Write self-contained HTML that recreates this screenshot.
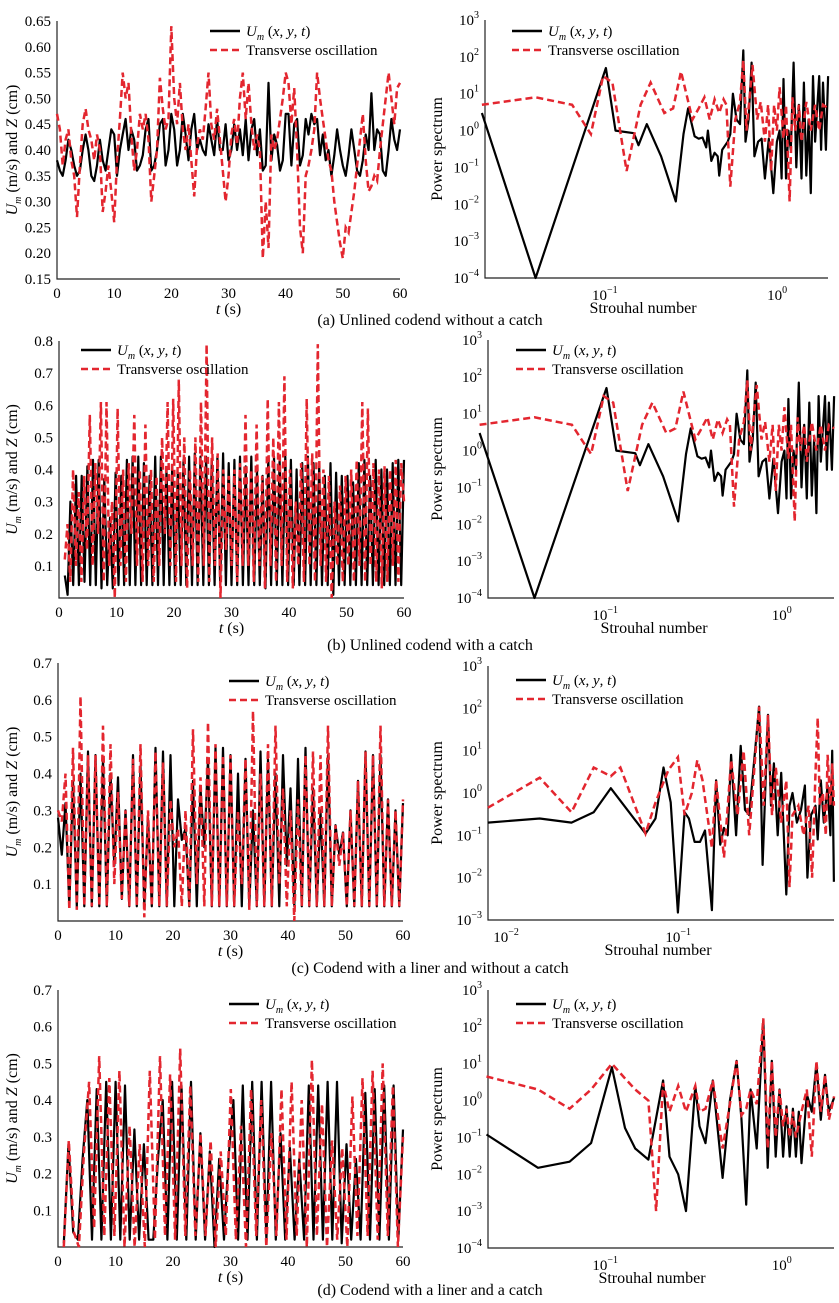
<!DOCTYPE html>
<html><head><meta charset="utf-8">
<style>
html,body{margin:0;padding:0;background:#fff;}
svg{display:block;font-family:"Liberation Serif",serif;}
</style></head>
<body>
<svg id="fig" width="839" height="1303" viewBox="0 0 839 1303" xmlns="http://www.w3.org/2000/svg"></svg>
<script>
// ===== Time series data (values sampled uniformly over 0-60 s) =====
const tsA_black=[0.38,0.36,0.35,0.38,0.42,0.40,0.37,0.35,0.36,0.40,0.43,0.40,0.35,0.34,0.37,0.42,0.38,0.36,0.40,0.44,0.43,0.35,0.40,0.43,0.46,0.40,0.44,0.42,0.36,0.37,0.39,0.44,0.46,0.36,0.37,0.40,0.45,0.46,0.37,0.40,0.47,0.44,0.37,0.40,0.47,0.43,0.38,0.44,0.47,0.40,0.42,0.40,0.39,0.45,0.42,0.39,0.46,0.40,0.40,0.45,0.38,0.40,0.45,0.40,0.44,0.39,0.46,0.38,0.44,0.46,0.39,0.44,0.36,0.37,0.53,0.38,0.43,0.41,0.36,0.38,0.47,0.47,0.37,0.45,0.46,0.37,0.39,0.46,0.43,0.47,0.45,0.46,0.39,0.43,0.38,0.40,0.35,0.39,0.44,0.40,0.37,0.35,0.39,0.44,0.40,0.36,0.35,0.38,0.43,0.40,0.51,0.40,0.44,0.43,0.36,0.35,0.40,0.46,0.42,0.40,0.44];
const tsA_red=[0.47,0.44,0.37,0.42,0.44,0.38,0.35,0.27,0.37,0.45,0.48,0.44,0.42,0.38,0.43,0.40,0.28,0.32,0.37,0.32,0.26,0.38,0.46,0.55,0.50,0.53,0.43,0.36,0.40,0.47,0.44,0.47,0.42,0.30,0.35,0.40,0.54,0.48,0.44,0.46,0.64,0.50,0.45,0.53,0.44,0.40,0.45,0.38,0.31,0.41,0.44,0.42,0.48,0.55,0.45,0.42,0.48,0.42,0.36,0.30,0.35,0.43,0.46,0.41,0.50,0.55,0.46,0.53,0.45,0.40,0.43,0.40,0.19,0.30,0.21,0.43,0.40,0.42,0.46,0.50,0.55,0.53,0.45,0.52,0.40,0.25,0.20,0.35,0.37,0.40,0.44,0.55,0.50,0.46,0.42,0.38,0.36,0.30,0.26,0.22,0.19,0.25,0.24,0.28,0.32,0.37,0.42,0.47,0.38,0.32,0.33,0.35,0.34,0.40,0.45,0.50,0.55,0.50,0.45,0.52,0.53];
const tsB_black=[0.07,0.01,0.30,0.04,0.38,0.04,0.38,0.05,0.41,0.04,0.43,0.04,0.43,0.03,0.37,0.04,0.25,0.03,0.39,0.04,0.38,0.04,0.43,0.04,0.44,0.04,0.44,0.04,0.42,0.04,0.38,0.04,0.44,0.04,0.44,0.04,0.40,0.04,0.41,0.04,0.39,0.04,0.43,0.04,0.44,0.04,0.45,0.04,0.44,0.04,0.44,0.04,0.43,0.04,0.44,0.04,0.45,0.04,0.42,0.04,0.43,0.04,0.44,0.04,0.41,0.04,0.44,0.04,0.40,0.04,0.38,0.03,0.44,0.04,0.44,0.04,0.43,0.04,0.44,0.04,0.43,0.04,0.40,0.04,0.42,0.04,0.44,0.04,0.42,0.04,0.41,0.04,0.38,0.04,0.42,0.01,0.39,0.04,0.38,0.04,0.38,0.04,0.36,0.04,0.42,0.04,0.43,0.04,0.38,0.04,0.43,0.04,0.40,0.04,0.40,0.04,0.42,0.04,0.43,0.04,0.43];
const tsB_red=[0.12,0.23,0.05,0.40,0.10,0.33,0.05,0.38,0.15,0.57,0.10,0.42,0.20,0.61,0.05,0.61,0.10,0.30,0.00,0.59,0.10,0.40,0.05,0.42,0.20,0.57,0.10,0.40,0.05,0.54,0.10,0.40,0.05,0.38,0.10,0.50,0.20,0.61,0.10,0.62,0.05,0.68,0.10,0.50,0.03,0.40,0.10,0.50,0.05,0.61,0.10,0.79,0.05,0.50,0.10,0.45,0.00,0.40,0.15,0.38,0.10,0.40,0.05,0.42,0.10,0.57,0.10,0.40,0.05,0.54,0.10,0.38,0.03,0.62,0.10,0.50,0.05,0.61,0.10,0.69,0.05,0.40,0.03,0.30,0.10,0.42,0.05,0.62,0.10,0.45,0.05,0.79,0.10,0.40,0.05,0.38,0.00,0.30,0.10,0.35,0.05,0.38,0.10,0.40,0.05,0.43,0.10,0.61,0.05,0.59,0.10,0.42,0.05,0.40,0.03,0.41,0.05,0.40,0.10,0.43,0.05,0.42,0.30];
const tsC_black=[0.28,0.18,0.32,0.04,0.38,0.04,0.40,0.04,0.46,0.04,0.45,0.04,0.44,0.04,0.40,0.15,0.39,0.06,0.30,0.04,0.45,0.04,0.42,0.04,0.28,0.04,0.47,0.04,0.46,0.04,0.45,0.04,0.33,0.22,0.25,0.04,0.38,0.04,0.36,0.20,0.44,0.04,0.47,0.04,0.47,0.04,0.45,0.04,0.40,0.04,0.44,0.04,0.30,0.04,0.46,0.04,0.44,0.04,0.40,0.04,0.45,0.15,0.36,0.04,0.44,0.04,0.47,0.04,0.36,0.04,0.30,0.04,0.45,0.04,0.26,0.18,0.24,0.04,0.30,0.04,0.38,0.04,0.46,0.04,0.45,0.04,0.45,0.04,0.33,0.04,0.30,0.04,0.32];
const tsC_red=[0.30,0.27,0.40,0.03,0.47,0.03,0.61,0.04,0.45,0.04,0.45,0.04,0.53,0.04,0.48,0.10,0.35,0.06,0.30,0.04,0.44,0.04,0.48,0.01,0.30,0.04,0.46,0.04,0.43,0.04,0.33,0.20,0.25,0.04,0.30,0.04,0.52,0.10,0.39,0.04,0.54,0.04,0.48,0.04,0.45,0.04,0.45,0.04,0.30,0.10,0.44,0.03,0.57,0.04,0.40,0.04,0.48,0.04,0.53,0.10,0.36,0.04,0.30,0.00,0.33,0.04,0.45,0.04,0.46,0.04,0.45,0.04,0.53,0.04,0.26,0.15,0.24,0.04,0.30,0.04,0.38,0.04,0.46,0.04,0.45,0.04,0.53,0.04,0.33,0.04,0.30,0.04,0.33];
const tsD_black=[0.01,0.28,0.04,0.02,0.24,0.40,0.02,0.43,0.02,0.45,0.02,0.45,0.02,0.44,0.02,0.32,0.02,0.28,0.02,0.02,0.24,0.40,0.02,0.45,0.02,0.44,0.02,0.45,0.02,0.31,0.02,0.26,0.00,0.24,0.02,0.25,0.40,0.02,0.44,0.02,0.45,0.02,0.45,0.02,0.45,0.02,0.31,0.02,0.27,0.02,0.24,0.02,0.44,0.02,0.44,0.02,0.45,0.02,0.45,0.01,0.28,0.02,0.24,0.02,0.42,0.02,0.43,0.02,0.44,0.02,0.44,0.02,0.32];
const tsD_red=[0.00,0.29,0.04,0.00,0.26,0.45,0.05,0.52,0.03,0.46,0.03,0.48,0.00,0.33,0.00,0.28,0.00,0.48,0.02,0.52,0.03,0.47,0.02,0.54,0.03,0.44,0.03,0.31,0.03,0.29,0.00,0.26,0.03,0.43,0.02,0.33,0.00,0.43,0.03,0.40,0.00,0.31,0.03,0.43,0.02,0.45,0.03,0.40,0.00,0.51,0.03,0.39,0.00,0.29,0.02,0.27,0.00,0.41,0.03,0.46,0.03,0.48,0.02,0.50,0.03,0.44,0.00,0.30];
// ===== Spectra data =====
const spA_st=[0.021,0.043,0.11,0.125,0.16,0.17,0.19,0.23,0.28,0.31,0.33,0.36,0.38,0.40,0.42,0.43,0.45,0.47,0.49,0.50,0.52,0.56,0.58,0.60,0.63,0.66,0.69,0.71,0.74,0.77,0.80,0.84,0.88,0.92,0.97,1.03,1.08,1.12,1.15,1.18,1.22,1.26,1.30,1.35,1.40,1.45,1.50,1.55,1.60,1.65,1.70,1.75,1.80,1.90,1.95,2.00,2.08,2.14];
const spA_black=[3,0.0001,50,1,0.85,0.4,1.5,0.2,0.012,0.8,4,0.7,0.6,0.65,0.35,1.0,0.15,0.25,0.2,0.06,0.3,0.5,0.8,10,2,1.5,150,0.5,2,70,0.2,0.5,0.6,0.05,0.6,0.02,0.5,1.0,0.05,25,0.05,1,0.3,70,0.1,5,0.05,20,0.06,2,0.02,30,0.5,30,0.3,20,0.3,30];
const spA_st2=[0.021,0.043,0.07,0.09,0.106,0.12,0.145,0.175,0.20,0.24,0.27,0.30,0.35,0.38,0.41,0.44,0.47,0.50,0.53,0.55,0.58,0.62,0.66,0.69,0.72,0.75,0.78,0.83,0.87,0.92,0.96,1.0,1.04,1.08,1.12,1.18,1.22,1.28,1.33,1.38,1.45,1.5,1.6,1.7,1.8,1.9,2.0,2.14];
const spA_red=[5,8,5,0.8,30,20,0.08,5,20,3,4,40,2,4,8,2,7,3,7,5,0.03,2,6,80,1,8,60,2,6,0.5,5,0.08,5,1,15,0.6,5,0.012,8,1,5,0.5,6,1,5,1,5,4];
const spC_st=[0.0085,0.017,0.026,0.035,0.044,0.070,0.08,0.089,0.098,0.108,0.118,0.125,0.135,0.145,0.155,0.17,0.18,0.19,0.20,0.21,0.22,0.235,0.25,0.265,0.28,0.32,0.335,0.36,0.375,0.39,0.41,0.43,0.46,0.48,0.50,0.53,0.56,0.59,0.61,0.64,0.68,0.70,0.73,0.76,0.80,0.83,0.85,0.87];
const spC_black=[0.2,0.25,0.2,0.35,1.3,0.11,0.25,4,0.6,0.0015,0.35,0.25,0.07,0.07,0.13,0.0017,2,0.06,0.15,0.1,8,0.1,13,0.4,0.3,110,0.02,70,0.5,5,0.1,3,0.004,0.5,1,0.2,0.4,1.5,0.01,0.3,0.5,0.08,2,0.2,1.5,0.1,10,0.008];
const spC_st2=[0.0085,0.017,0.026,0.035,0.044,0.05,0.070,0.08,0.095,0.108,0.118,0.13,0.14,0.15,0.17,0.18,0.20,0.22,0.24,0.26,0.28,0.32,0.34,0.36,0.38,0.40,0.43,0.46,0.48,0.50,0.54,0.58,0.62,0.65,0.68,0.70,0.72,0.75,0.78,0.80,0.83,0.85,0.87];
const spC_red=[0.45,2.3,0.35,4,2.5,4,0.11,0.6,3.5,7,0.3,1,6,2,0.05,2,0.03,6,0.3,10,0.1,110,0.5,70,0.3,4,0.2,2,0.006,0.3,0.5,0.1,0.5,0.01,3,60,0.5,1,0.1,8,0.5,5,0.5];
const spD_st=[0.023,0.045,0.068,0.09,0.118,0.14,0.16,0.19,0.23,0.25,0.28,0.31,0.35,0.37,0.40,0.44,0.50,0.55,0.60,0.64,0.68,0.72,0.78,0.85,0.90,0.95,1.0,1.05,1.1,1.15,1.2,1.25,1.3,1.35,1.4,1.5,1.6,1.7,1.8,1.9,2.0,2.14];
const spD_black=[0.12,0.015,0.022,0.07,8,0.18,0.05,0.025,3.5,0.03,0.01,0.001,2.5,0.2,0.07,3.5,0.008,1,12,0.3,0.0015,2,0.05,150,0.015,12,0.03,2,0.03,0.7,0.03,0.6,0.03,0.5,0.02,1.5,0.5,10,0.3,5,0.5,1.2];
const spD_st2=[0.023,0.045,0.068,0.09,0.118,0.14,0.16,0.19,0.21,0.23,0.25,0.28,0.31,0.35,0.37,0.40,0.44,0.50,0.55,0.60,0.64,0.68,0.72,0.78,0.85,0.90,0.95,1.0,1.05,1.1,1.15,1.2,1.25,1.3,1.4,1.5,1.6,1.7,1.8,1.9,2.0,2.14];
const spD_red=[4.5,2,0.6,2,10,4,2,1,0.001,3,0.5,2.5,0.5,2.5,0.5,0.6,3.5,0.05,0.8,12,0.4,0.6,2,0.8,170,0.05,12,0.1,2,0.2,0.6,0.1,0.5,0.1,0.5,2,0.03,12,0.5,5,0.3,1.3];
const tTicks=[0,10,20,30,40,50,60];
const yTicksA=[0.15,0.20,0.25,0.30,0.35,0.40,0.45,0.50,0.55,0.60,0.65];
const yTicksB=[0.1,0.2,0.3,0.4,0.5,0.6,0.7,0.8];
const yTicksCD=[0.1,0.2,0.3,0.4,0.5,0.6,0.7];
const captions=["(a) Unlined codend without a catch","(b) Unlined codend with a catch","(c) Codend with a liner and without a catch","(d) Codend with a liner and a catch"];

const NS="http://www.w3.org/2000/svg";
const svg=document.getElementById('fig');
function mk(tag,attrs,parent){const e=document.createElementNS(NS,tag);for(const k in attrs)e.setAttribute(k,attrs[k]);(parent||svg).appendChild(e);return e;}
const RED="#e3262f";

function legend(g,x,y){
  const l1=mk('line',{x1:x,y1:y,x2:x+30,y2:y,stroke:'#000','stroke-width':2.5},g);
  
  
  const t1=mk('text',{x:x+36,y:y+5,'font-size':15,'font-style':'italic'},g);
  
  
  t1.innerHTML='U<tspan font-size="10" dy="4">m</tspan><tspan dy="-4" font-style="normal"> (</tspan>x<tspan font-style="normal">, </tspan>y<tspan font-style="normal">, </tspan>t<tspan font-style="normal">)</tspan>';
  const l2=mk('line',{x1:x,y1:y+19,x2:x+30,y2:y+19,stroke:RED,'stroke-width':2.5,'stroke-dasharray':'7,4'},g);
  
  
  const t2=mk('text',{x:x+36,y:y+24,'font-size':15},g);
  
  
  t2.textContent='Transverse oscillation';
}

function timePanel(id,c,black,red,yTicks,dec){
  const g=mk('g',{});
  
  
  const xs=t=>c.x0+(t/60)*(c.x1-c.x0);
  const ys=v=>c.yb+(v-c.ymin)/(c.ymax-c.ymin)*(c.yt-c.yb);
  const ax=mk('path',{d:`M${c.x0},${c.yt}V${c.yb}H${c.x1}`,fill:'none',stroke:'#222','stroke-width':1.2},g);
  
  
  tTicks.forEach(t=>{const tx=mk('text',{x:xs(t),y:c.yb+19,'font-size':15,'text-anchor':'middle'},g);
    
    
    tx.textContent=t;});
  yTicks.forEach(v=>{const tx=mk('text',{x:c.x0-6,y:ys(v)+5,'font-size':15,'text-anchor':'end'},g);
    
    
    tx.textContent=v.toFixed(dec);});
  const xt=mk('text',{x:(c.x0+c.x1)/2,y:c.yb+35,'font-size':16,'text-anchor':'middle'},g);
  
  
  xt.innerHTML='<tspan font-style="italic">t</tspan> (s)';
  const ycx=12, ycy=(c.yt+c.yb)/2;
  const yt=mk('text',{x:ycx,y:ycy,'font-size':16,'text-anchor':'middle',transform:`rotate(-90 ${ycx} ${ycy})`,dy:5},g);
  
  
  yt.innerHTML='<tspan font-style="italic">U</tspan><tspan font-size="10" font-style="italic" dy="4">m</tspan><tspan dy="-4"> (m/s) and </tspan><tspan font-style="italic">Z</tspan> (cm)';
  const pts=a=>a.map((v,i)=>xs(c.t0+(60-c.t0)*i/(a.length-1)).toFixed(1)+','+ys(v).toFixed(1)).join(' ');
  const pb=mk('polyline',{points:pts(black),fill:'none',stroke:'#000','stroke-width':2.2,'stroke-linejoin':'round'},g);
  
  
  const pr=mk('polyline',{points:pts(red),fill:'none',stroke:RED,'stroke-width':2.5,'stroke-dasharray':'7,4'},g);
  
  
  legend(g,c.lx,c.ly);
}

function specPanel(id,c,stB,pB,stR,pR){
  const g=mk('g',{});
  
  
  const xs=s=>c.x0+(Math.log10(s)-c.lx0)/(c.lx1-c.lx0)*(c.x1-c.x0);
  const ys=p=>c.yt+(c.ly0-Math.log10(p))/(c.ly0-c.ly1)*(c.yb-c.yt);
  const ax=mk('path',{d:`M${c.x0},${c.yt}V${c.yb}H${c.x1}`,fill:'none',stroke:'#222','stroke-width':1.2},g);
  
  
  for(let k=c.ly1;k<=c.ly0;k++){const tx=mk('text',{x:c.x0-6,y:ys(Math.pow(10,k))+5,'font-size':15,'text-anchor':'end'},g);
    
    
    tx.innerHTML='10<tspan font-size="10" dy="-7">'+(k<0?'\u2212'+(-k):k)+'</tspan>';}
  c.xt.forEach(k=>{const tx=mk('text',{x:xs(Math.pow(10,k))+6,y:c.yb+22,'font-size':15,'text-anchor':'middle'},g);
    
    
    tx.innerHTML='10<tspan font-size="10" dy="-7">'+(k<0?'\u2212'+(-k):k)+'</tspan>';});
  const xt=mk('text',{x:c.sx,y:c.yb+35,'font-size':16,'text-anchor':'middle'},g);
  
  
  xt.textContent='Strouhal number';
  const ycx=437, ycy=(c.yt+c.yb)/2;
  const yt=mk('text',{x:ycx,y:ycy,'font-size':16,'text-anchor':'middle',transform:`rotate(-90 ${ycx} ${ycy})`,dy:5},g);
  
  
  yt.textContent='Power spectrum';
  const pts=(s,p)=>s.map((v,i)=>xs(v).toFixed(1)+','+ys(p[i]).toFixed(1)).join(' ');
  const pb=mk('polyline',{points:pts(stB,pB),fill:'none',stroke:'#000','stroke-width':2.2,'stroke-linejoin':'round'},g);
  
  
  const pr=mk('polyline',{points:pts(stR,pR),fill:'none',stroke:RED,'stroke-width':2.5,'stroke-dasharray':'7,4'},g);
  
  
  legend(g,c.lgx,c.lgy);
}

timePanel('a',{x0:57,x1:400,yt:21,yb:279,ymin:0.15,ymax:0.65,t0:0,lx:210,ly:31},tsA_black,tsA_red,yTicksA,2);
timePanel('b',{x0:59,x1:404,yt:341,yb:598,ymin:0,ymax:0.8,t0:1,lx:81,ly:350},tsB_black,tsB_red,yTicksB,1);
timePanel('c',{x0:58,x1:403,yt:663,yb:921,ymin:0,ymax:0.7,t0:0,lx:229,ly:681},tsC_black,tsC_red,yTicksCD,1);
timePanel('d',{x0:58,x1:403,yt:990,yb:1247,ymin:0,ymax:0.7,t0:1,lx:229,ly:1004},tsD_black,tsD_red,yTicksCD,1);

specPanel('a',{x0:485,x1:828,yt:20,yb:278,lx0:-1.66,lx1:0.33,ly0:3,ly1:-4,xt:[-1,0],sx:643,lgx:512,lgy:31},spA_st,spA_black,spA_st2,spA_red);
specPanel('b',{x0:488,x1:834,yt:340,yb:598,lx0:-1.63,lx1:0.33,ly0:3,ly1:-4,xt:[-1,0],sx:654,lgx:516,lgy:350},spA_st,spA_black,spA_st2,spA_red);
specPanel('c',{x0:488,x1:834,yt:666,yb:920,lx0:-2.07,lx1:-0.06,ly0:3,ly1:-3,xt:[-2,-1],sx:658,lgx:516,lgy:680},spC_st,spC_black,spC_st2,spC_red);
specPanel('d',{x0:488,x1:834,yt:990,yb:1248,lx0:-1.63,lx1:0.33,ly0:3,ly1:-4,xt:[-1,0],sx:652,lgx:516,lgy:1004},spD_st,spD_black,spD_st2,spD_red);

[320,645,968,1290].forEach((y,i)=>{
  const t=mk('text',{x:430,y:y+5,'font-size':16,'text-anchor':'middle'});
  
  
  t.textContent=captions[i];
});
</script>
</body></html>
